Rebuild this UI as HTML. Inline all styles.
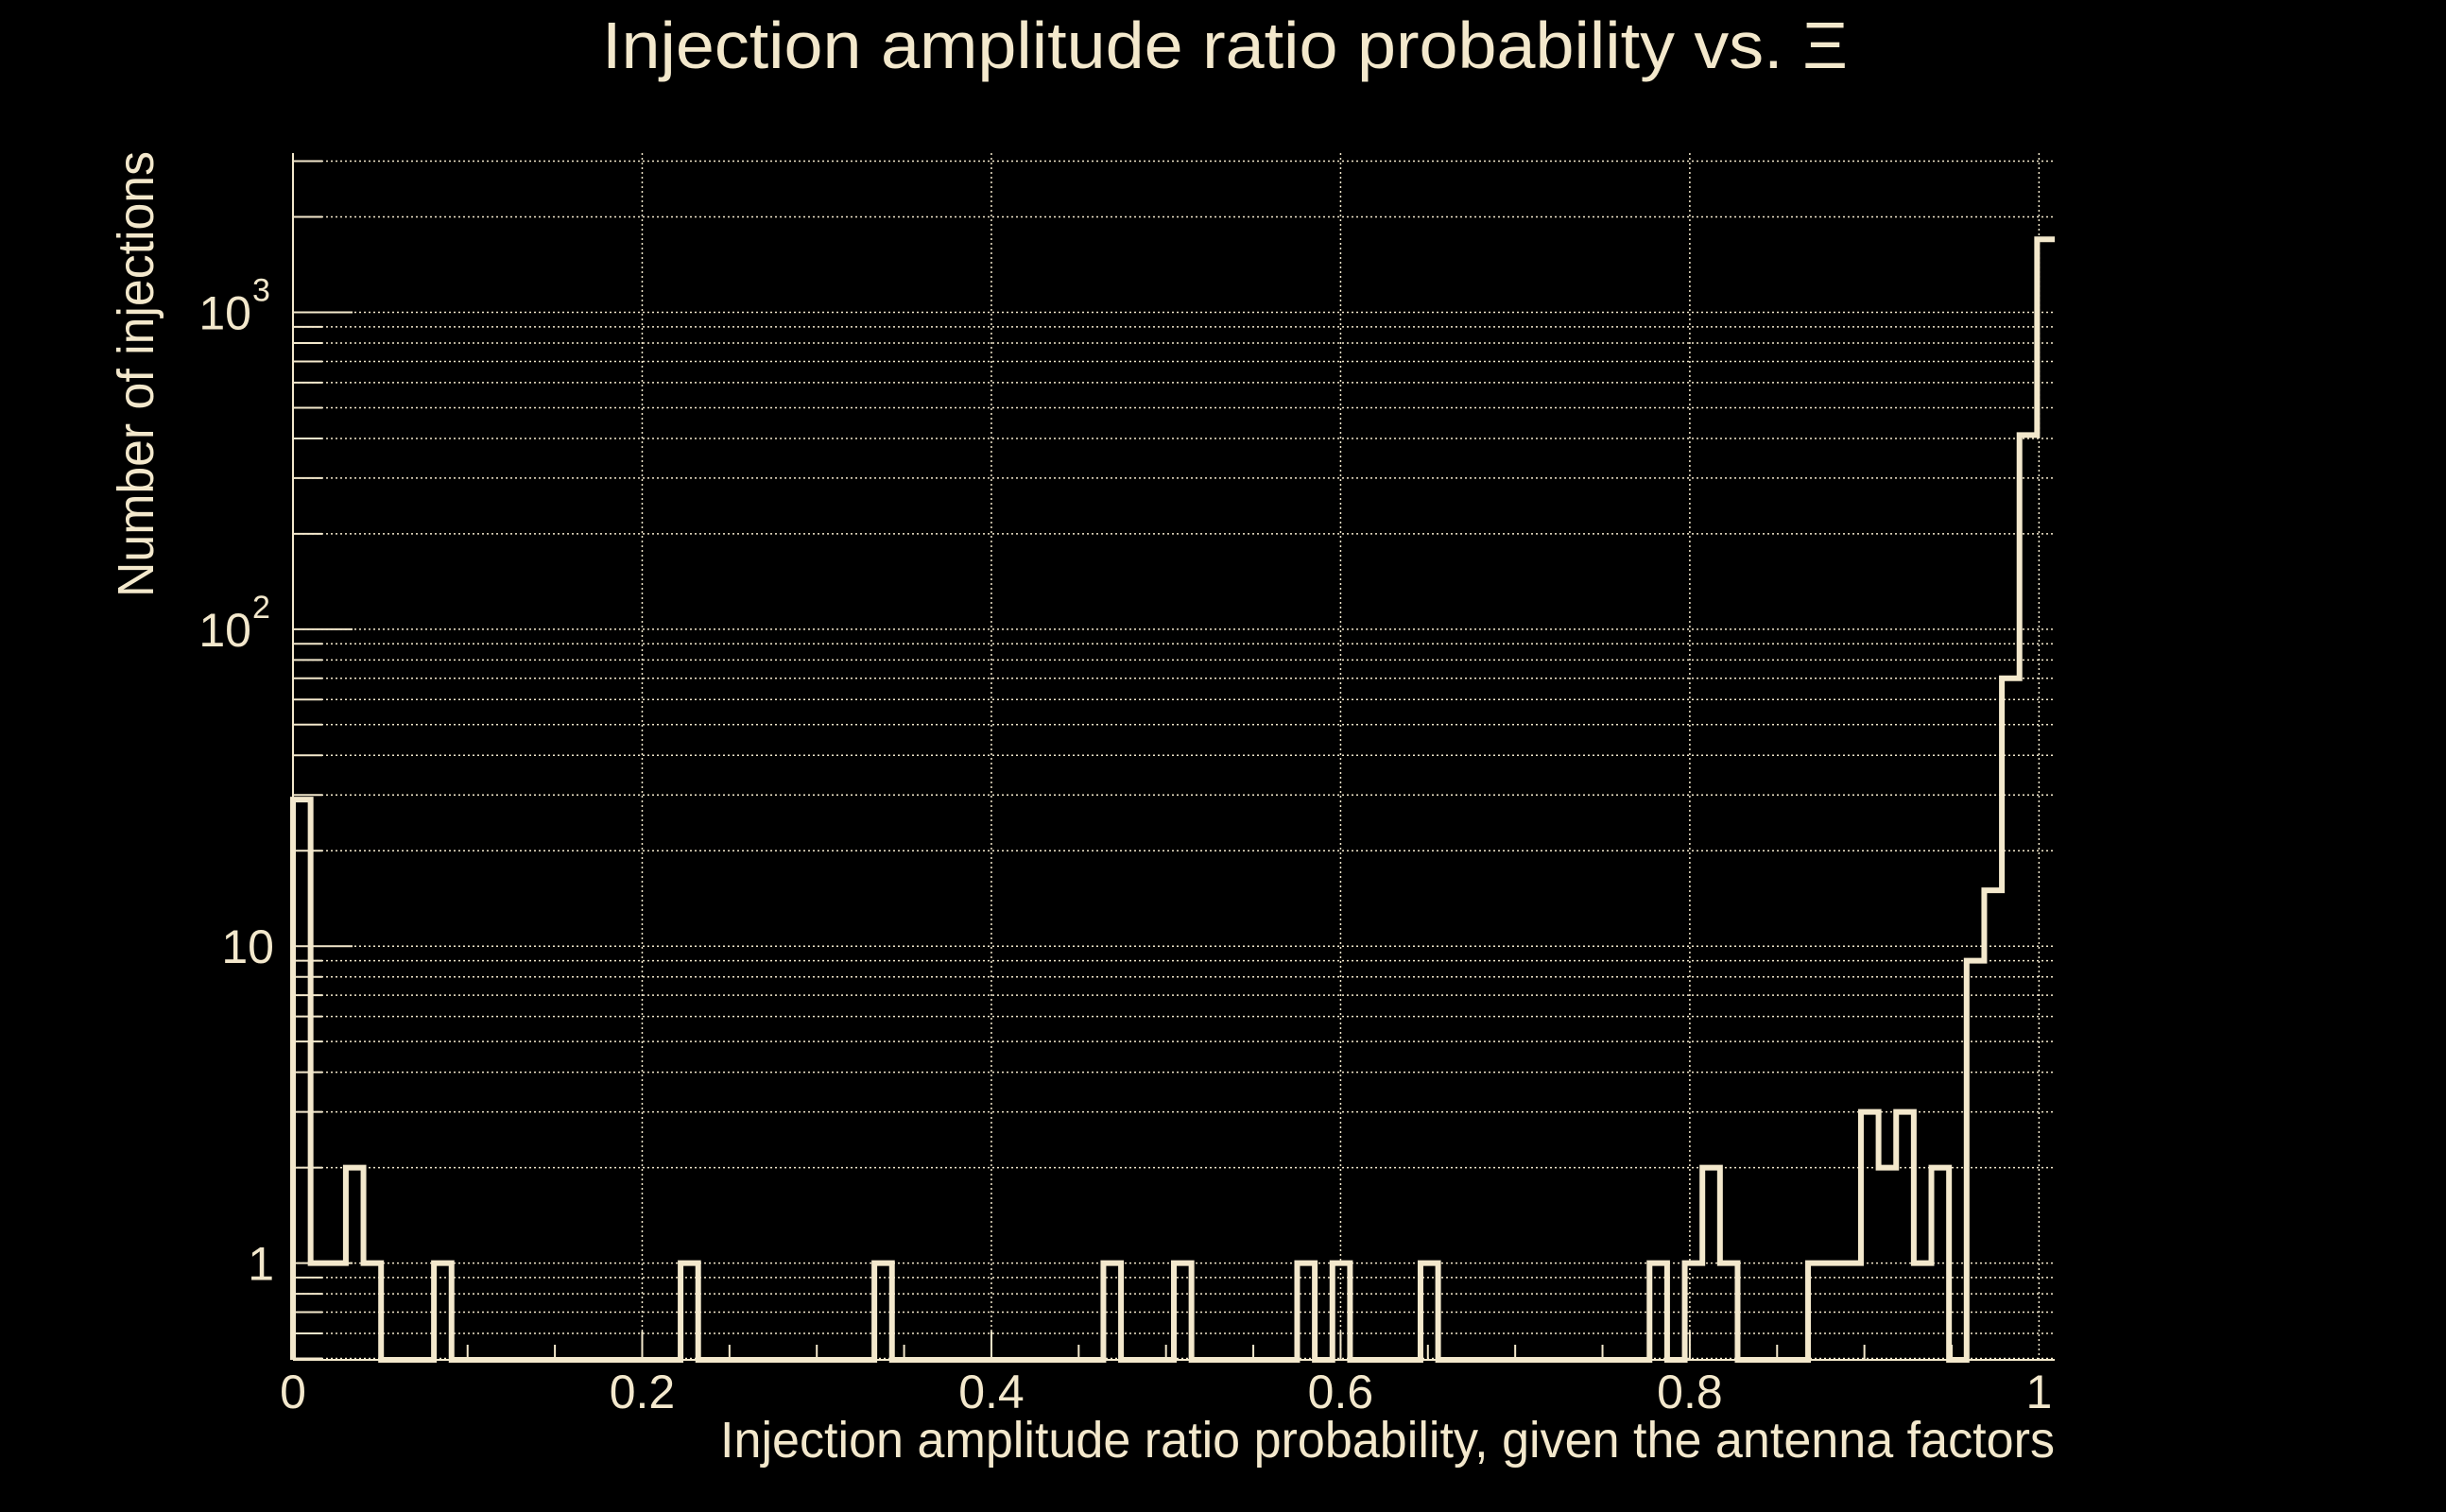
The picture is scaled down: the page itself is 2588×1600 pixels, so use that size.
<!DOCTYPE html>
<html><head><meta charset="utf-8"><style>
html,body{margin:0;padding:0;background:#000;}
svg{display:block;}
text{font-family:"Liberation Sans",sans-serif;fill:#f3e8cc;}
</style></head><body>
<svg id="chart" width="2588" height="1600" viewBox="0 0 2588 1600" xmlns="http://www.w3.org/2000/svg">
<rect width="2588" height="1600" fill="#000"/>
<text x="1296" y="72" font-size="70" text-anchor="middle" textLength="1318" lengthAdjust="spacingAndGlyphs">Injection amplitude ratio probability vs.  Ξ</text>
<text transform="translate(162,396) rotate(-90)" font-size="54" text-anchor="middle" textLength="472" lengthAdjust="spacingAndGlyphs">Number of injections</text>
<text x="2174" y="1542" font-size="54" text-anchor="end" textLength="1412" lengthAdjust="spacingAndGlyphs">Injection amplitude ratio probability, given the antenna factors</text>
<g id="grid"></g>
<g id="axes"></g>
<g id="ticklabels"></g>
<path id="hist" fill="none" stroke="#f3e8cc" stroke-width="6" stroke-linejoin="miter"/>
</svg>
<script>
const binWidth = 0.01009;
const counts = [29,1,1,2,1,0,0,0,1,0, 0,0,0,0,0,0,0,0,0,0, 0,0,1,0,0,0,0,0,0,0, 0,0,0,1,0,0,0,0,0,0,
 0,0,0,0,0,0,1,0,0,0, 1,0,0,0,0,0,0,1,0,1, 0,0,0,0,1,0,0,0,0,0, 0,0,0,0,0,0,0,1,0,1,
 2,1,0,0,0,0,1,1,1,3, 2,3,1,2,0,9,15,70,410,1700];
const xTickValues = [0,0.2,0.4,0.6,0.8,1];
const xTickLabels = ["0","0.2","0.4","0.6","0.8","1"];
const yMajorValues = [1,10,100,1000];
const yMajorLabels = ["1","10","10|2","10|3"];

const X0=310, X1=2174, XMIN=0, XMAX=1.009;
const YB=1439, YT=162, YMIN=0.495, YMAX=3180;
const C="#f3e8cc";
function xs(v){return X0+(v-XMIN)/(XMAX-XMIN)*(X1-X0);}
function ys(v){v=Math.max(v,YMIN);return YB-(Math.log10(v)-Math.log10(YMIN))/(Math.log10(YMAX)-Math.log10(YMIN))*(YB-YT);}
const NS="http://www.w3.org/2000/svg";
function mk(tag,attrs,parent){const e=document.createElementNS(NS,tag);for(const k in attrs)e.setAttribute(k,attrs[k]);parent.appendChild(e);return e;}
const grid=document.getElementById('grid'), axes=document.getElementById('axes'), tl=document.getElementById('ticklabels');
for(let d=-1;d<=3;d++){for(let m=1;m<=9;m++){const v=m*Math.pow(10,d);if(v<YMIN||v>YMAX)continue;const y=ys(v);
 const g=mk('line',{x1:X0,x2:X1,y1:y,y2:y,stroke:C,'stroke-width':1.5,'stroke-dasharray':'2 3'},grid);
 
 
 const t=mk('line',{x1:X0,x2:X0+(m===1?63:31),y1:y,y2:y,stroke:C,'stroke-width':2},axes);
 
 
}}
xTickValues.forEach((v,i)=>{const x=xs(v);
 const g=mk('line',{x1:x,x2:x,y1:YT,y2:YB,stroke:C,'stroke-width':1.5,'stroke-dasharray':'2 3'},grid);
 
 
 const t=mk('text',{x:x,y:1490,'font-size':50,'text-anchor':'middle'},tl);t.textContent=xTickLabels[i];
 
 
});
for(let v=0.05;v<1.0;v+=0.05){const x=xs(v);
 const t=mk('line',{x1:x,x2:x,y1:YB,y2:YB-(Math.abs(v*5-Math.round(v*5))<1e-6?30:16),stroke:C,'stroke-width':2},axes);
 
 
}
let a=mk('line',{x1:X0,x2:X0,y1:YT,y2:YB,stroke:C,'stroke-width':2},axes);


a=mk('line',{x1:X0,x2:X1,y1:YB,y2:YB,stroke:C,'stroke-width':2},axes);


yMajorValues.forEach((v,i)=>{const y=ys(v);const parts=yMajorLabels[i].split('|');
 const t=mk('text',{x:parts.length>1?266:290,y:y+18,'font-size':50,'text-anchor':'end'},tl);t.textContent=parts[0];
 
 
 if(parts.length>1){const s=mk('text',{x:267,y:y-12,'font-size':34,'text-anchor':'start'},tl);s.textContent=parts[1];
  
  }
});
let d='M'+xs(0)+' '+ys(YMIN);
counts.forEach((c,i)=>{const xa=xs(i*binWidth), xb=xs((i+1)*binWidth), y=ys(c);d+=' L'+xa+' '+y+' L'+xb+' '+y;});
document.getElementById('hist').setAttribute('d',d);
</script>
</body></html>
